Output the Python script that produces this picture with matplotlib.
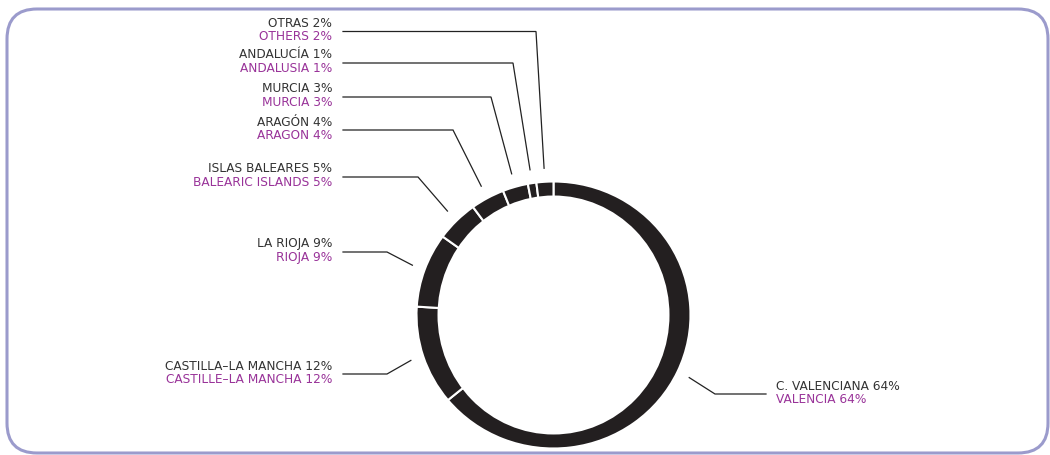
import matplotlib.pyplot as plt
from matplotlib.patches import FancyBboxPatch, Ellipse
from matplotlib.transforms import Affine2D
import numpy as np

plt.rcParams['font.family'] = ['DejaVu Sans']

# regional shares, clockwise from 12 o'clock
regions_es = ["C. VALENCIANA", "CASTILLA–LA MANCHA", "LA RIOJA", "ISLAS BALEARES",
              "ARAGÓN", "MURCIA", "ANDALUCÍA", "OTRAS"]
regions_en = ["VALENCIA", "CASTILLE–LA MANCHA", "RIOJA", "BALEARIC ISLANDS",
              "ARAGON", "MURCIA", "ANDALUSIA", "OTHERS"]
shares = [64, 12, 9, 5, 4, 3, 1, 2]

# label layout (pixel space, y measured from the top): line height, knee x, side
label_y = [394, 374, 252, 177, 130, 97, 63, 31.5]
knee_x = [715, 387, 387, 418, 453, 491, 513, 536]
side = ["right", "left", "left", "left", "left", "left", "left", "left"]

W, H = 1050, 455
cx, cy = 553.5, H - 315
rx_out, ry_out = 137, 133.5
rx_in, ry_in = 116, 119.5
ring_col = "#231f20"
txt_col = "#333333"
en_col = "#993399"

fig = plt.figure(figsize=(W / 100, H / 100), dpi=100)
ax = fig.add_axes([0, 0, 1, 1])

wedges, _ = ax.pie(shares, startangle=90, counterclock=False, radius=rx_out,
                   center=(cx, cy), colors=[ring_col] * len(shares),
                   wedgeprops=dict(edgecolor="white", linewidth=1.5))

# squash the pie slightly vertically
squash = Affine2D().translate(-cx, -cy).scale(1, ry_out / rx_out).translate(cx, cy)
for w in wedges:
    w.set_transform(squash + ax.transData)

# hole in the middle
ax.add_patch(Ellipse((cx, cy), 2 * rx_in, 2 * ry_in, facecolor="white",
                     edgecolor="none", zorder=3))

ax.set_xlim(0, W)
ax.set_ylim(0, H)
ax.set_aspect("equal")
ax.axis("off")

# rounded frame
frame = FancyBboxPatch((7, H - 453), 1041, 444, boxstyle="round,pad=0,rounding_size=30",
                       fill=False, edgecolor="#9b9bcc", linewidth=2.2)
ax.add_patch(frame)

# leader lines and labels
for w, es, en, pct, ly, kx, sd in zip(wedges, regions_es, regions_en, shares,
                                       label_y, knee_x, side):
    mid = np.deg2rad((w.theta1 + w.theta2) / 2)
    sx, sy = cx + 150 * np.cos(mid), cy + 147 * np.sin(mid)
    yy = H - ly
    ex = 343 if sd == "left" else 766
    ax.plot([sx, kx, ex], [sy, yy, yy], color="#222222", lw=0.9,
            solid_joinstyle="miter")
    if sd == "left":
        tx, ha = 332, "right"
    else:
        tx, ha = 776, "left"
    ax.text(tx, yy + 8, f"{es} {pct}%", ha=ha, va="center", fontsize=8.7,
            color=txt_col)
    ax.text(tx, yy - 5.5, f"{en} {pct}%", ha=ha, va="center", fontsize=8.7,
            color=en_col)

fig.savefig("out.png", dpi=100)
